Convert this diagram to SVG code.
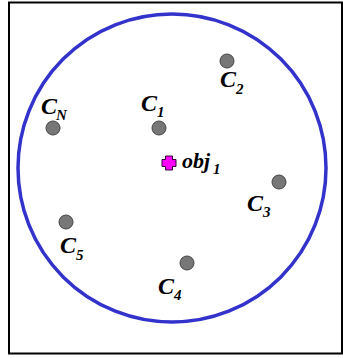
<svg xmlns="http://www.w3.org/2000/svg" width="343" height="358" viewBox="0 0 343 358">
<style>
.dot{fill:#777;stroke:#444;stroke-width:1}
.lbl{font-family:"Liberation Serif",serif;font-style:italic;font-weight:bold;fill:#000}
.main{font-size:24px}
.sub{font-size:15px}
</style>
<rect x="0" y="0" width="343" height="358" fill="#fff"/>
<rect x="9" y="2.5" width="333" height="351" fill="#fff" stroke="#000" stroke-width="2"/>
<circle cx="172" cy="168" r="154" fill="none" stroke="#3333cc" stroke-width="3.5"/>
<g id="c1"><circle class="dot" cx="159" cy="128" r="7"/><text class="lbl main" x="141" y="111">C</text><text class="lbl sub" x="157" y="117">1</text></g>
<g id="c2"><circle class="dot" cx="227" cy="61" r="7"/><text class="lbl main" x="220" y="87">C</text><text class="lbl sub" x="236" y="94">2</text></g>
<g id="cN"><circle class="dot" cx="53" cy="128" r="7"/><text class="lbl main" x="41" y="114">C</text><text class="lbl sub" x="56" y="120">N</text></g>
<g id="c3"><circle class="dot" cx="279" cy="182" r="7"/><text class="lbl main" x="247" y="211">C</text><text class="lbl sub" x="263" y="217">3</text></g>
<g id="c5"><circle class="dot" cx="66" cy="222" r="7"/><text class="lbl main" x="60" y="253">C</text><text class="lbl sub" x="76" y="260">5</text></g>
<g id="c4"><circle class="dot" cx="187" cy="263" r="7"/><text class="lbl main" x="158" y="294">C</text><text class="lbl sub" x="174" y="300">4</text></g>
<g id="obj1"><path d="M165.5,156 h7 v3.5 h3.5 v7 h-3.5 v3.5 h-7 v-3.5 h-3.5 v-7 h3.5 z" fill="#ff00ff" stroke="#330033" stroke-width="1"/><text class="lbl" font-size="22" x="182" y="168">obj</text><text class="lbl sub" x="213" y="174">1</text></g>
</svg>
